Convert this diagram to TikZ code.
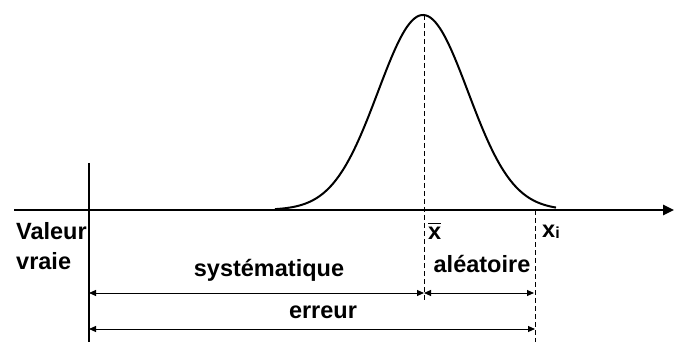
\documentclass[tikz,border=0pt]{standalone}
\usepackage{fontspec}
\setmainfont{Liberation Sans}
\usetikzlibrary{arrows.meta}
\newcommand{\barx}{{\setbox0\hbox{x}\rlap{\rule[\dimexpr\ht0+2.5pt\relax]{\wd0}{1.6pt}}x}}
\tikzset{
  lbl/.style={font=\bfseries\fontsize{23.5}{26}\selectfont, inner sep=0pt},
  dim/.style={line width=1pt, {Triangle[length=7pt,width=6pt]}-{Triangle[length=7pt,width=6pt]}},
  guide/.style={dashed, line width=1pt, dash pattern=on 5pt off 3pt},
}
\begin{document}
\begin{tikzpicture}[x=1pt,y=-1pt]
\useasboundingbox (0,0) rectangle (678,342);
% coordinates
\coordinate (axL) at (14,210);
\coordinate (axR) at (674,210);
\coordinate (vT) at (89,163);
\coordinate (vB) at (89,342);
\coordinate (mT) at (424,15);
\coordinate (mB) at (424,300);
\coordinate (xT) at (535,210);
\coordinate (xB) at (535,342);
\coordinate (s1) at (89,293);
\coordinate (s2) at (424,293);
\coordinate (a1) at (424,293);
\coordinate (a2) at (535,293);
\coordinate (e1) at (89,329);
\coordinate (e2) at (535,329);
% curve
\draw[line width=2pt, smooth, samples=120, domain=275:556]
  plot (\x, {210-195*exp(-0.5*((\x-423)/45)*((\x-423)/45))});
% axis
\draw[line width=2.5pt, -{Triangle[length=11pt,width=10pt]}] (axL) -- (axR);
\draw[line width=1.5pt] (vT) -- (vB);
\draw[guide] (mT) -- (mB);
\draw[guide] (xT) -- (xB);
% dimension arrows
\draw[dim] (s1) -- (s2);
\draw[dim] (a1) -- ([xshift=-1pt]a2);
\draw[dim] (e1) -- (e2);
% labels
\node[lbl, anchor=north west] (val) at (16,222) {Valeur};
\node[lbl, anchor=north west] (vra) at (16,252) {vraie};
\node[lbl] (sys) at (269,270) {systématique};
\node[lbl] (ale) at (482,264) {aléatoire};
\node[lbl] (err) at (323,312) {erreur};
\node[lbl, anchor=west] (xbar) at (428,231) {\barx};
\node[lbl, anchor=west] (xi) at (542,232) {x\raisebox{-1pt}{\fontsize{16}{17}\selectfont i}};
\end{tikzpicture}
\end{document}
